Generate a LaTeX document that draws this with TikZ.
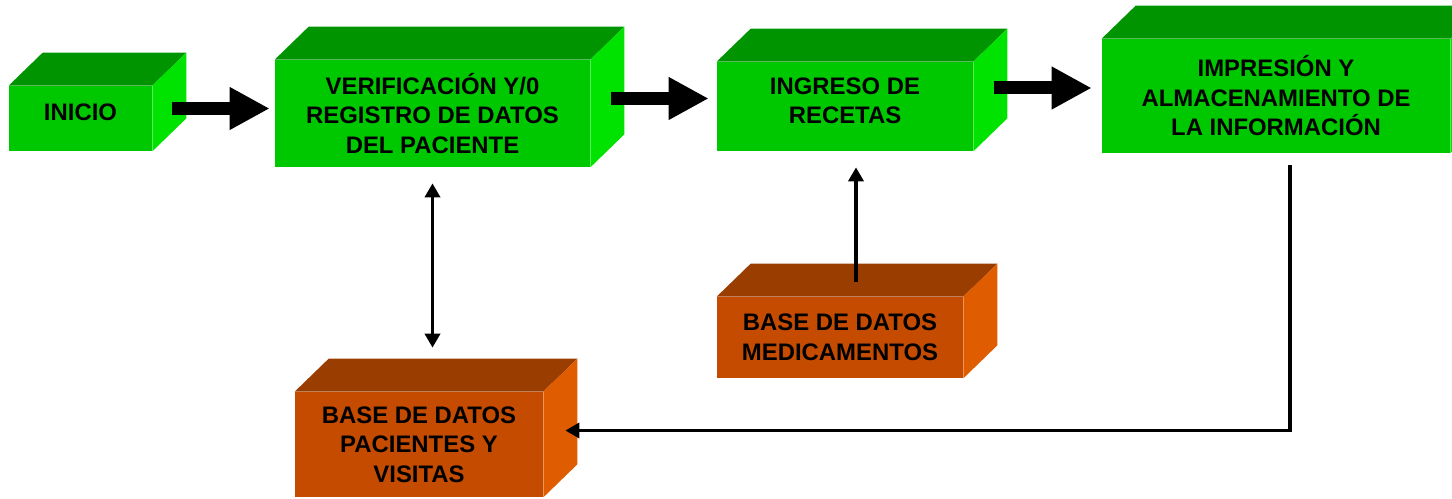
\documentclass[tikz,border=0pt]{standalone}
\usepackage{fontspec}
\setmainfont{Liberation Sans}
\usetikzlibrary{arrows.meta, calc}
\definecolor{verde}{RGB}{0, 200, 0}
\definecolor{verdetapa}{RGB}{0, 148, 0}
\definecolor{verdelado}{RGB}{0, 226, 0}
\definecolor{naranja}{RGB}{197, 75, 0}
\definecolor{naranjatapa}{RGB}{153, 61, 0}
\definecolor{naranjalado}{RGB}{224, 92, 0}
\newcommand{\caja}[3]{
  \fill[#2] (#1.north west) -- ++(34, -33) -- ($(#1.north east) + (34, -33)$)
    -- (#1.north east) -- cycle;
  \fill[#3] (#1.north east) -- ++(34, -33) -- ($(#1.south east) + (34, -33)$)
    -- (#1.south east) -- cycle;
}
\tikzset{
  cara/.style={rectangle, inner sep=0pt, align=center,
    font=\bfseries\fontsize{13.6}{16.8}\selectfont},
  gruesa/.style={line width=0.26cm, -{Triangle[length=0.8cm, width=0.8cm]}},
  flecha/.style={line width=0.07cm, >={Triangle[length=0.28cm, width=0.3cm]}}
}
\begin{document}
\begin{tikzpicture}[x=0.02cm, y=-0.02cm]

  \useasboundingbox (0, 0) rectangle (1452, 499);
  \clip (0, 0) rectangle (1452, 499);

  \node[cara, fill=verde, minimum width=2.86cm, minimum height=1.30cm,
    text depth=0.24cm] (inicio) at (80.5, 118.5) {INICIO};
  \node[cara, fill=verde, minimum width=6.30cm, minimum height=2.14cm]
    (verif) at (432.5, 113.5) {VERIFICACIÓN Y/0\\REGISTRO DE DATOS\\DEL PACIENTE};
  \node[cara, fill=verde, minimum width=5.12cm, minimum height=1.78cm,
    text depth=0.24cm] (ingreso) at (845, 106.5) {INGRESO DE\\RECETAS};
  \node[cara, fill=verde, minimum width=6.96cm, minimum height=2.28cm]
    (impresion) at (1276, 96) {IMPRESIÓN Y\\ALMACENAMIENTO DE\\LA INFORMACIÓN};
  \node[cara, fill=naranja, minimum width=4.92cm, minimum height=1.62cm]
    (medic) at (840, 337.5) {BASE DE DATOS\\MEDICAMENTOS};
  \node[cara, fill=naranja, minimum width=4.96cm, minimum height=2.10cm]
    (pacientes) at (419, 444.5) {BASE DE DATOS\\PACIENTES Y\\VISITAS};

  \foreach \n in {inicio, verif, ingreso, impresion} {
    \caja{\n}{verdetapa}{verdelado}
  }
  \foreach \n in {medic, pacientes} {
    \caja{\n}{naranjatapa}{naranjalado}
  }

  \coordinate (a1) at ($(inicio.east) + (20, -10)$);
  \coordinate (a2) at ($(verif.east) + (21, -15)$);
  \coordinate (a3) at ($(ingreso.east) + (21, -18.5)$);
  \draw[gruesa, shorten >=0.1cm] (a1) -- (a1 -| verif.west);
  \draw[gruesa, shorten >=0.16cm] (a2) -- (a2 -| ingreso.west);
  \draw[gruesa, shorten >=0.2cm] (a3) -- (a3 -| impresion.west);

  \draw[flecha, <->, shorten <=0.32cm, shorten >=0.88cm]
    (verif.south) -- (verif.south |- pacientes.north);

  \coordinate (pie) at ($(medic.north) + (16, -15)$);
  \draw[flecha, ->, shorten >=0.32cm] (pie) -- (pie |- ingreso.south);

  \coordinate (salida) at ($(impresion.south) + (14, 12)$);
  \coordinate (llegada) at ($(pacientes.east) + (22, -14)$);
  \draw[flecha, ->] (salida) |- (llegada);

\end{tikzpicture}
\end{document}
